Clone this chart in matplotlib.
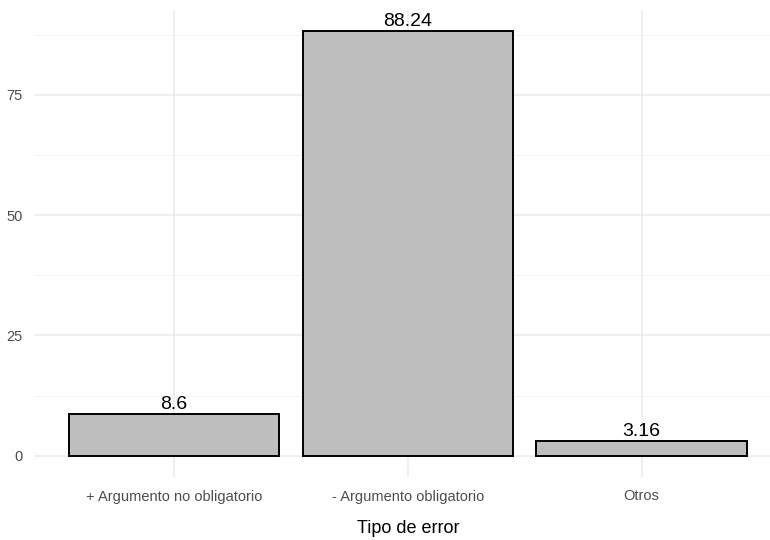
import matplotlib
matplotlib.use("Agg")
import matplotlib.pyplot as plt
import numpy as np

plt.rcParams['font.family'] = ['Liberation Sans', 'DejaVu Sans']

# data
categorias = ['+ Argumento no obligatorio', '- Argumento obligatorio', 'Otros']
porcentajes = [8.6, 88.24, 3.16]
etiquetas = ['8.6', '88.24', '3.16']
y_ticks = [0, 25, 50, 75]

W, H = 770, 540
fig = plt.figure(figsize=(W / 100, H / 100), dpi=100)

# panel in pixel coords (ggplot-like layout, right edge cut off)
left, right, top, bottom = 33.6, 782, 10, 477
ax = fig.add_axes([left / W, (H - bottom) / H, (right - left) / W, (bottom - top) / H])

x = np.arange(1, len(categorias) + 1)
ax.bar(x, porcentajes, width=0.9, color='#BEBEBE', edgecolor='black', linewidth=1.4, zorder=3)

for xi, v, lab in zip(x, porcentajes, etiquetas):
    ax.text(xi, v + 0.2, lab, ha='center', va='bottom', fontsize=14, color='black', zorder=4)

ymax = max(porcentajes)
ax.set_xlim(0.4, len(categorias) + 0.6)
ax.set_ylim(-0.05 * ymax, 1.05 * ymax)

ax.set_xticks(x)
ax.set_xticklabels(categorias)
ax.set_yticks(y_ticks)
ax.set_yticks([12.5, 37.5, 62.5, 87.5], minor=True)

ax.grid(which='major', color='#EBEBEB', linewidth=1.1, zorder=0)
ax.grid(which='minor', axis='y', color='#F2F2F2', linewidth=0.6, zorder=0)
ax.set_axisbelow(True)

for s in ax.spines.values():
    s.set_visible(False)
ax.tick_params(which='both', length=0, labelsize=10.5, labelcolor='#4D4D4D')
ax.tick_params(axis='x', pad=9)
ax.tick_params(axis='y', pad=8)

ax.set_xlabel('Tipo de error', fontsize=13, color='black', labelpad=12)

fig.savefig('out.png', dpi=100)
